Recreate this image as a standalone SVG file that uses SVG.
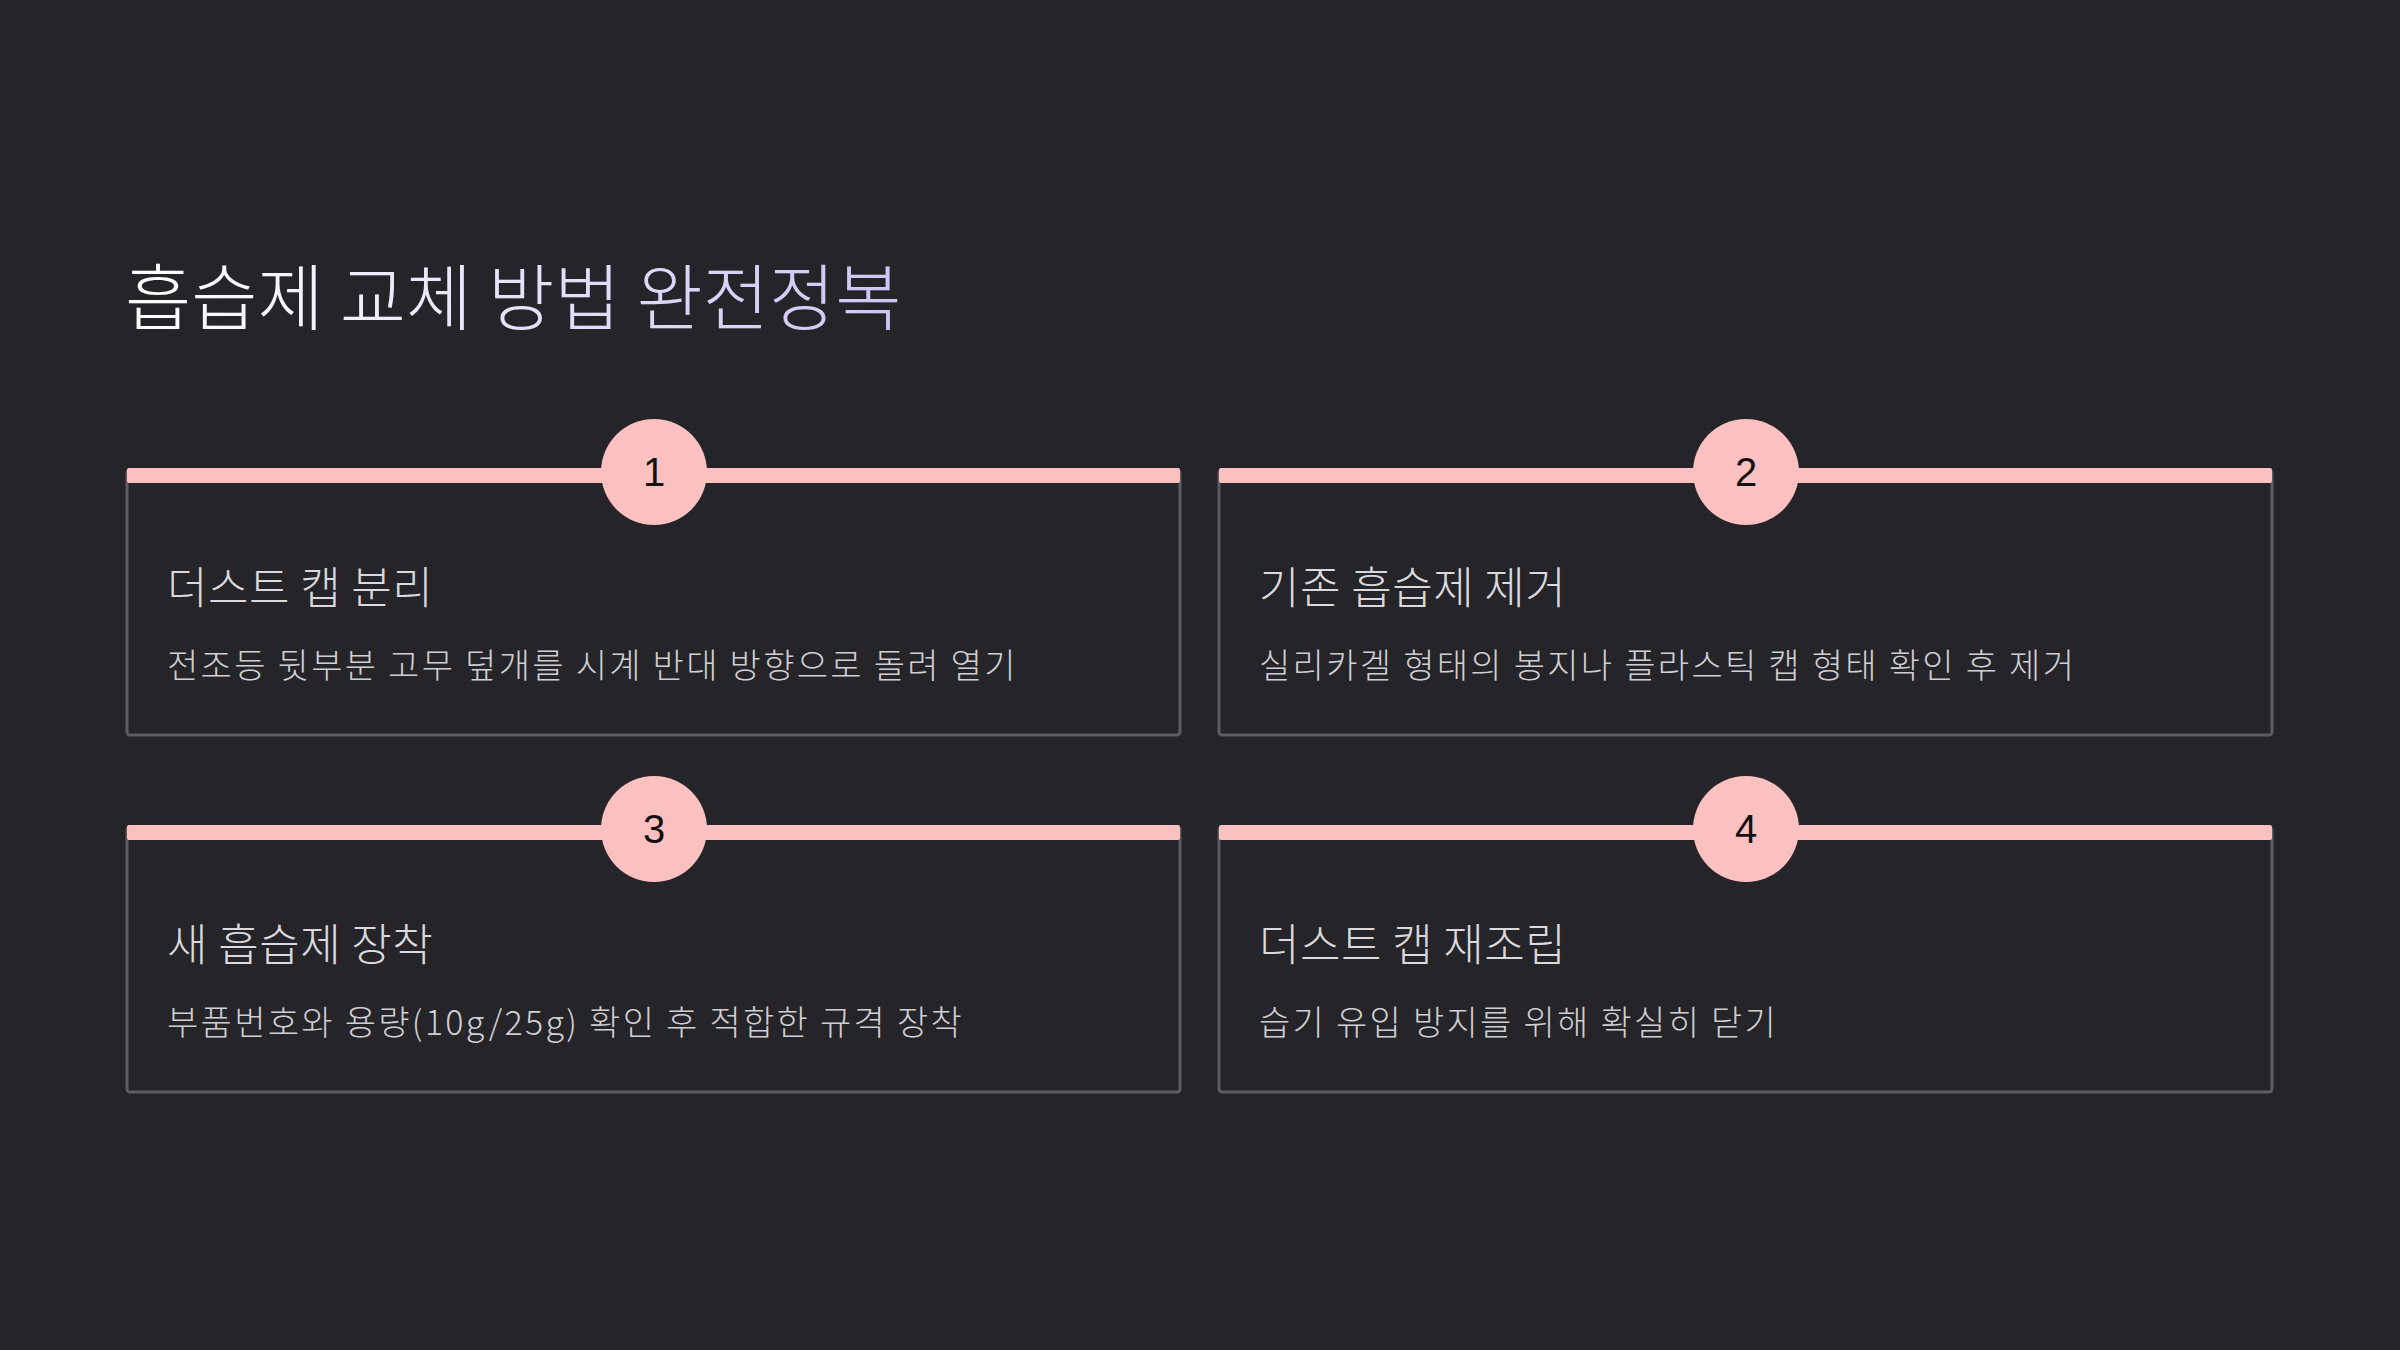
<svg xmlns="http://www.w3.org/2000/svg" width="2400" height="1350" viewBox="0 0 2400 1350">
<defs>
<linearGradient id="tg" x1="0" y1="0" x2="1" y2="0"><stop offset="0" stop-color="#ffffff"/><stop offset="1" stop-color="#cfc4f5"/></linearGradient>
<style>
.card{fill:#252428;stroke:#5d5c62;stroke-width:3}
.bar{fill:#fbc1c0}
.circ{fill:#fbc1c0}
.num{font-family:"Liberation Sans",Arial,sans-serif;font-size:40px;fill:#111;text-anchor:middle}
.h{font-family:"Noto Sans CJK KR",sans-serif;font-size:44px;font-weight:300;fill:#d9d9de;letter-spacing:0.5px}
.d{font-family:"Noto Sans CJK KR",sans-serif;font-size:34px;font-weight:300;fill:#cfcfd4;letter-spacing:2.3px}
</style>
</defs>
<rect width="2400" height="1350" fill="#252428"/>
<text x="125" y="324" font-family="Noto Sans CJK KR, sans-serif" font-size="72" font-weight="300" fill="url(#tg)">흡습제 교체 방법 완전정복</text>
<g id="step1"><rect class="card" x="127" y="470" width="1053" height="265" rx="3"/><rect class="bar" x="127" y="468" width="1053" height="15" rx="2"/><circle class="circ" cx="654" cy="472" r="53"/><text class="num" x="654" y="486">1</text><text class="h" x="167" y="604">더스트 캡 분리</text><text class="d" x="167" y="678">전조등 뒷부분 고무 덮개를 시계 반대 방향으로 돌려 열기</text></g>
<g id="step2"><rect class="card" x="1219" y="470" width="1053" height="265" rx="3"/><rect class="bar" x="1219" y="468" width="1053" height="15" rx="2"/><circle class="circ" cx="1746" cy="472" r="53"/><text class="num" x="1746" y="486">2</text><text class="h" x="1259" y="604">기존 흡습제 제거</text><text class="d" x="1259" y="678">실리카겔 형태의 봉지나 플라스틱 캡 형태 확인 후 제거</text></g>
<g id="step3"><rect class="card" x="127" y="827" width="1053" height="265" rx="3"/><rect class="bar" x="127" y="825" width="1053" height="15" rx="2"/><circle class="circ" cx="654" cy="829" r="53"/><text class="num" x="654" y="843">3</text><text class="h" x="167" y="961">새 흡습제 장착</text><text class="d" x="167" y="1035">부품번호와 용량(10g/25g) 확인 후 적합한 규격 장착</text></g>
<g id="step4"><rect class="card" x="1219" y="827" width="1053" height="265" rx="3"/><rect class="bar" x="1219" y="825" width="1053" height="15" rx="2"/><circle class="circ" cx="1746" cy="829" r="53"/><text class="num" x="1746" y="843">4</text><text class="h" x="1259" y="961">더스트 캡 재조립</text><text class="d" x="1259" y="1035">습기 유입 방지를 위해 확실히 닫기</text></g>
<g id="connectors"/>
</svg>
